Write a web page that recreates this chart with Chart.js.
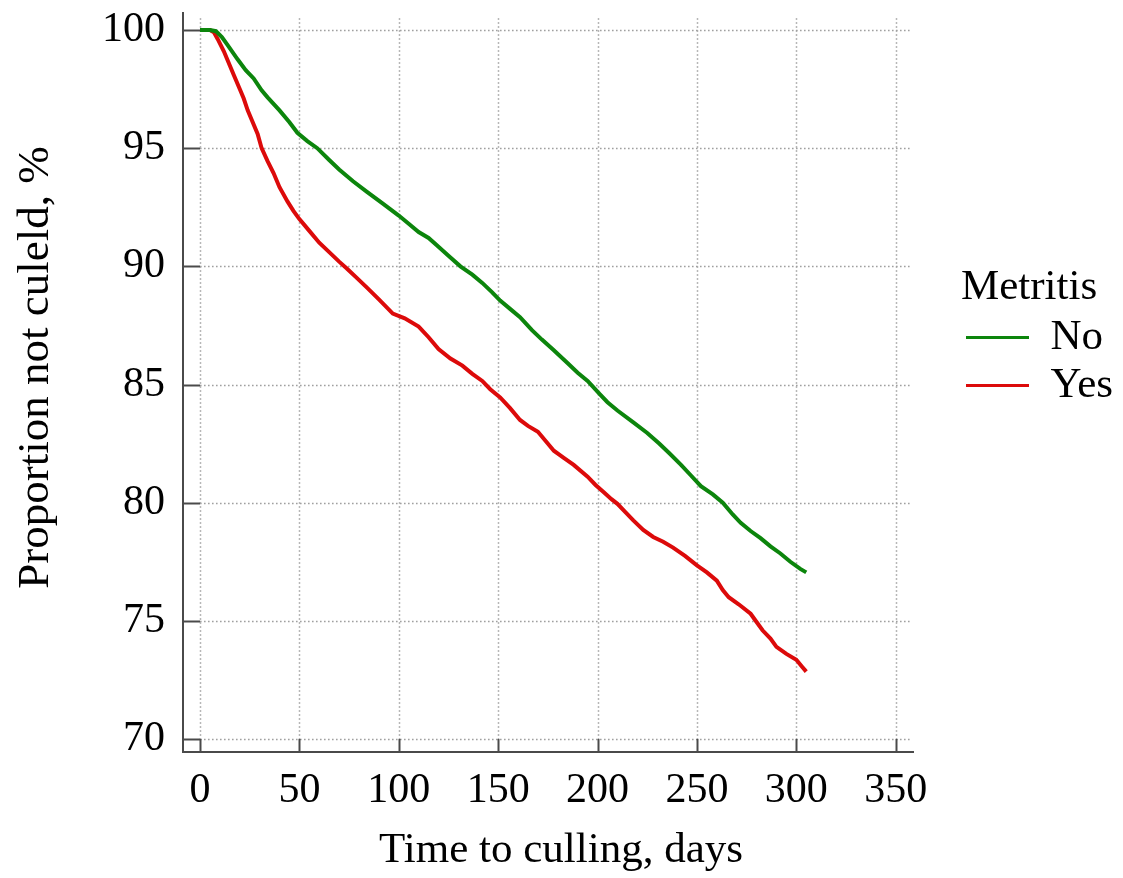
<!DOCTYPE html>
<html><head><meta charset="utf-8">
<script src="https://cdn.jsdelivr.net/npm/chart.js@4.4.1/dist/chart.umd.min.js"></script>
<style>html,body{margin:0;padding:0;background:#fff;overflow:hidden}</style>
</head><body>
<canvas id="c" width="1123" height="878"></canvas>
<script>
const seriesNames = ['No', 'Yes'];
const legendTitle = 'Metritis';
const xTitle = 'Time to culling, days';
const yTitle = 'Proportion not culeld, %';

const daysNo = [0,5,8,11,14,19,23,27,31,34,40,45,49,54,59,65,70,77,84,92,100,105,110,115,119,125,131,137,142,147,151,156,161,167,172,178,185,190,195,201,205,210,218,225,231,236,242,247,252,258,263,268,272,277,282,287,292,297,302,305];
const survNo = [100,100,99.95,99.7,99.35,98.75,98.3,97.95,97.45,97.15,96.6,96.1,95.65,95.3,95.0,94.5,94.1,93.6,93.15,92.65,92.15,91.8,91.45,91.2,90.9,90.45,90.0,89.65,89.3,88.9,88.55,88.2,87.85,87.3,86.9,86.45,85.9,85.5,85.15,84.6,84.25,83.9,83.4,82.95,82.5,82.1,81.6,81.15,80.7,80.35,80.0,79.5,79.15,78.8,78.5,78.15,77.85,77.5,77.2,77.05];

const daysYes = [0,5,7,9,12,15,17,20,22,24,26,29,31,34,37,40,44,47,50,55,60,65,70,74,79,84,90,97,103,110,115,120,126,132,137,142,146,151,156,161,165,170,174,178,183,188,195,199,203,207,210,214,218,223,228,233,238,244,250,255,260,263,266,271,277,280,283,287,290,295,300,303,305];
const survYes = [100,100,99.9,99.6,99.1,98.5,98.1,97.5,97.1,96.6,96.2,95.6,95.0,94.45,93.95,93.35,92.75,92.35,92.0,91.5,91.0,90.6,90.2,89.9,89.5,89.1,88.6,88.0,87.8,87.45,87.0,86.5,86.1,85.8,85.45,85.15,84.8,84.45,84.0,83.5,83.25,83.0,82.6,82.2,81.9,81.6,81.1,80.75,80.45,80.15,79.95,79.6,79.25,78.85,78.55,78.35,78.1,77.75,77.35,77.05,76.7,76.3,76.0,75.7,75.3,74.95,74.6,74.25,73.9,73.6,73.35,73.05,72.85];

const xTicks = [0,50,100,150,200,250,300,350];
const yTicks = [70,75,80,85,90,95,100];

const FONT = 'Liberation Serif, Times New Roman, serif';
const AXIS_COLOR = '#4a4a4a';

const toPts = (xs, ys) => xs.map((d, i) => ({x: d, y: ys[i]}));

const gridPlugin = {
  id: 'dottedGrid',
  beforeDatasetsDraw(chart) {
    const {ctx, chartArea, scales: {x, y}} = chart;
    ctx.save();
    ctx.strokeStyle = '#a0a0a0';
    ctx.lineWidth = 1.5;
    ctx.setLineDash([1.6, 2.4]);
    const gTop = y.getPixelForValue(100.5), gBot = y.getPixelForValue(yTicks[0]);
    const gLeft = x.getPixelForValue(xTicks[0]), gRight = x.getPixelForValue(357);
    xTicks.forEach(v => {
      const px = Math.round(x.getPixelForValue(v)) + 0.5;
      ctx.beginPath(); ctx.moveTo(px, gTop); ctx.lineTo(px, gBot); ctx.stroke();
    });
    yTicks.forEach(v => {
      const py = Math.round(y.getPixelForValue(v)) + 0.5;
      ctx.beginPath(); ctx.moveTo(gLeft, py); ctx.lineTo(gRight, py); ctx.stroke();
    });
    ctx.setLineDash([]);
    ctx.strokeStyle = AXIS_COLOR;
    ctx.lineWidth = 2;
    xTicks.forEach(v => {
      const px = Math.round(x.getPixelForValue(v)) + 0.5;
      ctx.beginPath(); ctx.moveTo(px, chartArea.bottom); ctx.lineTo(px, gBot); ctx.stroke();
    });
    yTicks.forEach(v => {
      const py = Math.round(y.getPixelForValue(v)) + 0.5;
      ctx.beginPath(); ctx.moveTo(chartArea.left, py); ctx.lineTo(gLeft, py); ctx.stroke();
    });
    ctx.restore();
  }
};

const titlePlugin = {
  id: 'axisTitles',
  afterDraw(chart) {
    const {ctx} = chart;
    ctx.save();
    ctx.fillStyle = '#000';
    ctx.textAlign = 'center';
    ctx.textBaseline = 'middle';
    ctx.font = '43px ' + FONT;
    ctx.fillText(xTitle, 561, 851);
    ctx.translate(36, 367.5);
    ctx.rotate(-Math.PI / 2);
    ctx.font = '45px ' + FONT;
    ctx.fillText(yTitle, 0, 0);
    ctx.restore();
  }
};

const legendPos = {
  id: 'legendPos',
  afterLayout(chart) {
    const L = chart.legend;
    if (!L) return;
    const h = L.height;
    L.left = 961; L.right = 1123; L.width = L.right - L.left;
    L.top = 266.5; L.bottom = L.top + h;
  }
};

new Chart(document.getElementById('c'), {
  type: 'line',
  data: {
    datasets: [
      {label: seriesNames[0], data: toPts(daysNo, survNo), borderColor: '#0c850c', backgroundColor: '#0c850c', borderWidth: 4, pointRadius: 0, tension: 0},
      {label: seriesNames[1], data: toPts(daysYes, survYes), borderColor: '#dc0a0a', backgroundColor: '#dc0a0a', borderWidth: 4, pointRadius: 0, tension: 0}
    ]
  },
  options: {
    responsive: false,
    animation: false,
    devicePixelRatio: 1,
    layout: {padding: {top: 13, right: 210, left: 0, bottom: 0}},
    scales: {
      x: {
        type: 'linear', min: -8.55, max: 358.7,
        grid: {display: false, drawTicks: false},
        border: {display: true, color: AXIS_COLOR, width: 2},
        ticks: {stepSize: 50, includeBounds: false, padding: 14, color: '#000', font: {family: FONT, size: 42}},
        title: {display: false, text: xTitle},
        afterFit(s) { s.height = 126; s.paddingLeft = 0; s.paddingRight = 0; }
      },
      y: {
        type: 'linear', min: 69.45, max: 100.72,
        grid: {display: false, drawTicks: false},
        border: {display: true, color: AXIS_COLOR, width: 2},
        ticks: {stepSize: 5, includeBounds: false, padding: 18, color: '#000', font: {family: FONT, size: 42}},
        title: {display: false, text: yTitle},
        afterFit(s) { s.width = 183; s.paddingTop = 0; s.paddingBottom = 0; }
      }
    },
    plugins: {
      tooltip: {enabled: false},
      legend: {
        position: 'chartArea',
        align: 'start',
        title: {display: true, text: legendTitle, position: 'start', color: '#000', font: {family: FONT, size: 43, lineHeight: 1.0}, padding: {top: 0, bottom: 1.5}},
        labels: {
          color: '#000', font: {family: FONT, size: 43}, padding: 5,
          usePointStyle: true, pointStyle: 'line', pointStyleWidth: 63, boxWidth: 63, boxHeight: 3,
          generateLabels(chart) {
            return Chart.defaults.plugins.legend.labels.generateLabels(chart).map(l => ({...l, lineWidth: 3, pointStyle: 'line'}));
          }
        }
      }
    }
  },
  plugins: [gridPlugin, titlePlugin, legendPos]
});
</script>
</body></html>
